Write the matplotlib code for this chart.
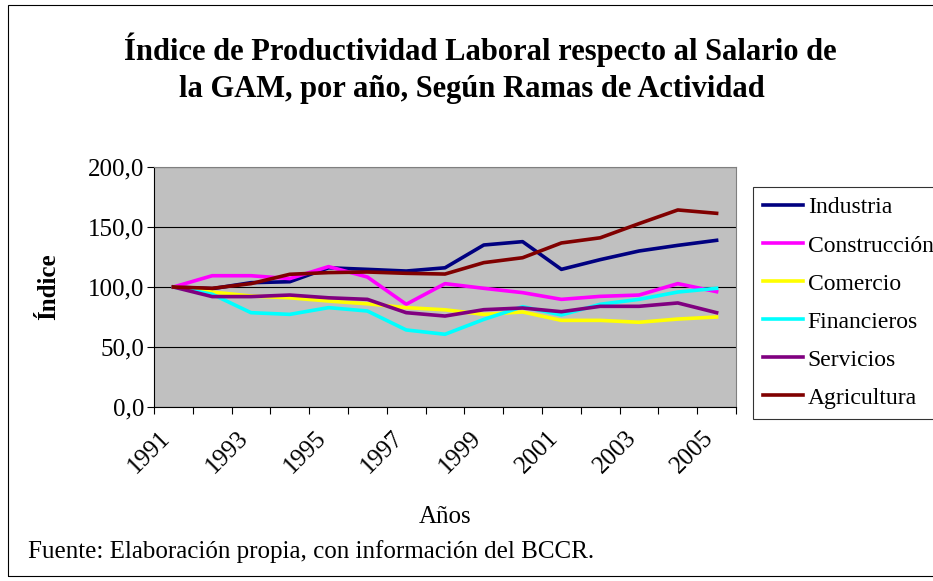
import matplotlib
matplotlib.use("Agg")
import matplotlib.pyplot as plt
from matplotlib.patches import Rectangle
import matplotlib.transforms as mtransforms
import numpy as np

years = [str(y) for y in range(1991, 2006)]
series_names = ["Industria", "Construcción", "Comercio", "Financieros", "Servicios", "Agricultura"]
industria    = [100, 98.6, 103.6, 104.4, 116.0, 114.7, 113.3, 116.0, 135.0, 137.8, 114.7, 122.8, 130.0, 134.7, 138.9]
construccion = [100, 109.4, 109.4, 107.0, 117.0, 108.3, 85.6, 102.8, 98.9, 95.3, 89.7, 92.2, 93.3, 102.8, 96.1]
comercio     = [100, 95.8, 92.5, 91.0, 88.3, 86.0, 82.8, 81.0, 77.2, 79.2, 72.2, 72.2, 70.6, 73.3, 75.0]
financieros  = [100, 94.0, 78.6, 77.2, 82.8, 80.0, 64.2, 60.6, 73.0, 83.6, 76.7, 85.6, 89.7, 95.8, 98.9]
servicios    = [100, 92.0, 92.0, 93.3, 91.0, 89.7, 78.6, 75.8, 81.1, 82.5, 79.4, 83.9, 83.9, 86.7, 78.6]
agricultura  = [100, 98.9, 102.8, 110.6, 112.0, 112.5, 111.4, 110.8, 120.3, 124.4, 136.7, 141.0, 152.8, 164.2, 161.4]
colors = ["#000080", "#FF00FF", "#FFFF00", "#00FFFF", "#800080", "#800000"]
yticks = [0, 50, 100, 150, 200]
ytick_labels = ["0,0", "50,0", "100,0", "150,0", "200,0"]

plt.rcParams['font.family'] = ['Liberation Serif', 'DejaVu Serif']

W, H = 933, 581
fig = plt.figure(figsize=(W/100, H/100), dpi=100)
fig.patch.set_facecolor("white")

# figure border
fig.add_artist(Rectangle((8/W, 1 - 576/H), 1.2, (576-5)/H, transform=fig.transFigure,
                         fill=False, edgecolor="black", linewidth=0.8))

ax = fig.add_axes([154/W, 1 - 407/H, (736-154)/W, (407-167)/H])
ax.set_facecolor("#C0C0C0")

x = np.arange(len(years))
data = [industria, construccion, comercio, financieros, servicios, agricultura]
for name, vals, c in zip(series_names, data, colors):
    ax.plot(x, vals, color=c, linewidth=2.6, label=name, solid_joinstyle='round')

ax.set_xlim(-0.5, len(years) - 0.5)
ax.set_ylim(0, 200)
ax.set_yticks(yticks)
ax.set_yticklabels(ytick_labels, fontsize=18)
ax.yaxis.grid(True, color="black", linewidth=0.8)
ax.set_axisbelow(True)

ax.set_xticks(x[::2])
ax.set_xticklabels(years[::2], rotation=45, ha="right", va="top",
                   rotation_mode="anchor", fontsize=18)
ax.tick_params(axis="x", which="major", length=0, pad=14)
offset = mtransforms.ScaledTranslation(-14/100, 0, fig.dpi_scale_trans)
for lbl in ax.get_xticklabels():
    lbl.set_transform(lbl.get_transform() + offset)
ax.set_xticks(np.arange(-0.5, len(years)), minor=True)
ax.tick_params(axis="x", which="minor", length=5, width=0.8, direction="out")
ax.tick_params(axis="y", length=5, width=0.8, direction="out", pad=2)

for s in ["left", "bottom"]:
    ax.spines[s].set_color("black")
    ax.spines[s].set_linewidth(0.8)
for s in ["top", "right"]:
    ax.spines[s].set_color("#808080")
    ax.spines[s].set_linewidth(0.8)

ax.set_ylabel("Índice", fontsize=18, fontweight="bold")
ax.yaxis.set_label_coords((60 - 154) / 582, 0.5)

fig.text(480/W, 1 - 50/H, "Índice de Productividad Laboral respecto al Salario de",
         ha="center", va="center", fontsize=22, fontweight="bold")
fig.text(472/W, 1 - 90/H, "la GAM, por año, Según Ramas de Actividad",
         ha="center", va="center", fontsize=22, fontweight="bold")
fig.text(445/W, 1 - 517/H, "Años", ha="center", va="center", fontsize=18)
fig.text(28/W, 1 - 552/H, "Fuente: Elaboración propia, con información del BCCR.",
         ha="left", va="center", fontsize=18)

leg = fig.legend(loc="upper left", bbox_to_anchor=(753/W, 1 - 187/H),
                 fontsize=17, frameon=True, fancybox=False, edgecolor="black",
                 handlelength=1.7, handletextpad=0.2, borderpad=0.42,
                 labelspacing=0.7, borderaxespad=0)
leg.get_frame().set_linewidth(0.8)

fig.savefig("out.png", dpi=100)
